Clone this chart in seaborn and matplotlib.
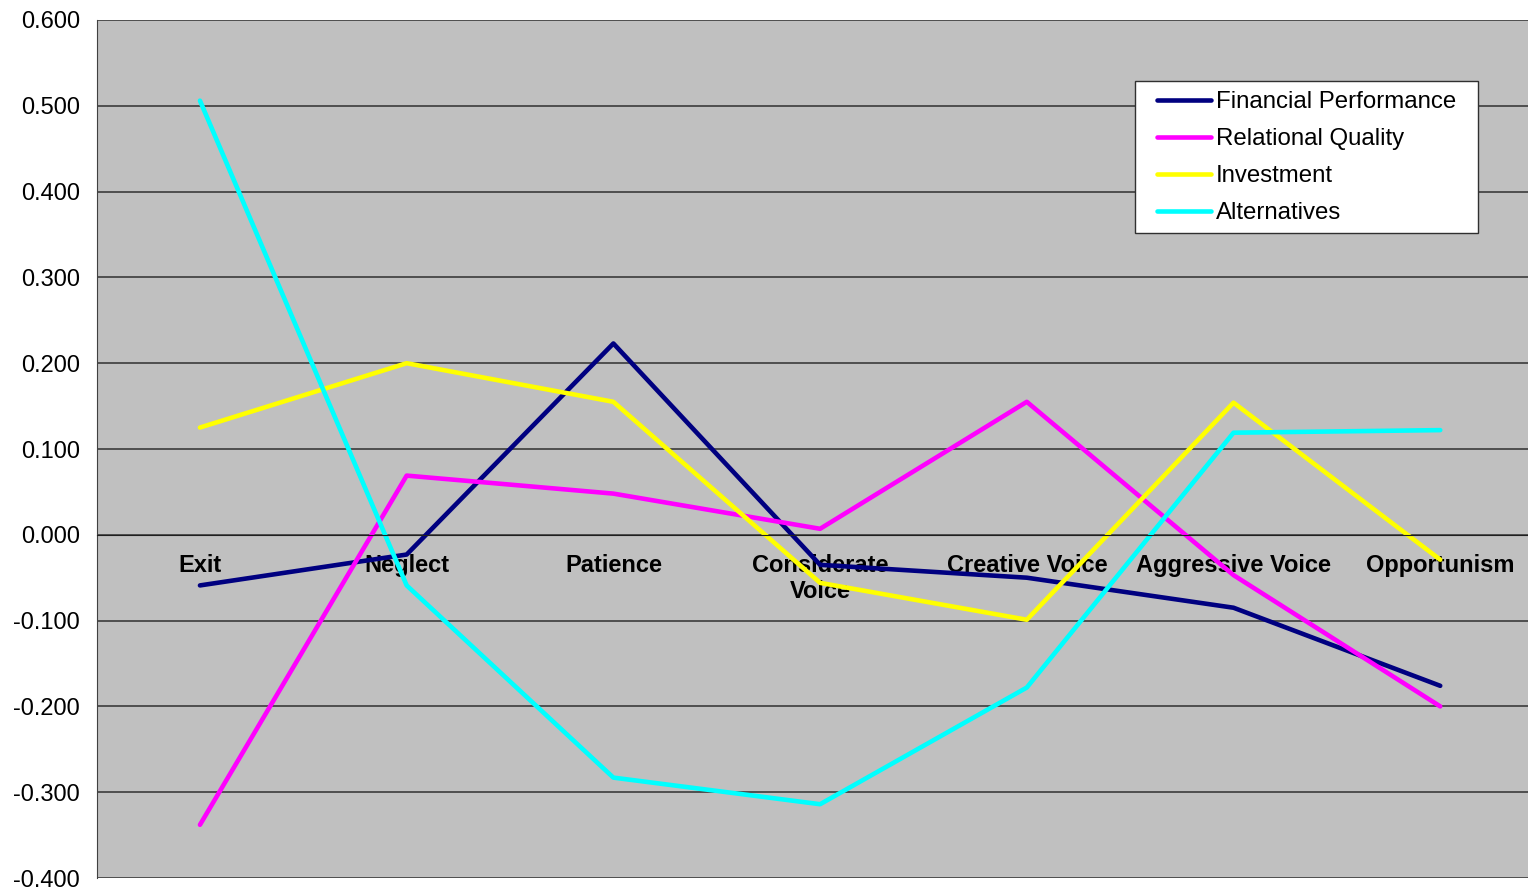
import matplotlib
matplotlib.use("Agg")
import matplotlib.pyplot as plt
from matplotlib.patches import Rectangle
import seaborn as sns
import pandas as pd

# Data
categories = ['Exit', 'Neglect', 'Patience', 'Considerate\nVoice',
              'Creative Voice', 'Aggressive Voice', 'Opportunism']
financial = [-0.059, -0.023, 0.223, -0.035, -0.050, -0.085, -0.176]
relational = [-0.338, 0.069, 0.048, 0.007, 0.155, -0.047, -0.200]
investment = [0.125, 0.200, 0.155, -0.056, -0.099, 0.154, -0.029]
alternatives = [0.506, -0.059, -0.283, -0.314, -0.178, 0.119, 0.122]
y_ticks = [-0.4, -0.3, -0.2, -0.1, 0.0, 0.1, 0.2, 0.3, 0.4, 0.5, 0.6]

series = {
    'Financial Performance': financial,
    'Relational Quality': relational,
    'Investment': investment,
    'Alternatives': alternatives,
}
colors = ['#000080', '#FF00FF', '#FFFF00', '#00FFFF']

rows = []
for name, vals in series.items():
    for i, v in enumerate(vals):
        rows.append({'pos': i, 'value': v, 'series': name})
df = pd.DataFrame(rows)

sns.set_style('white')
plt.rcParams['font.family'] = ['Liberation Sans', 'DejaVu Sans']
plt.rcParams['text.color'] = 'black'
plt.rcParams['xtick.color'] = 'black'
plt.rcParams['ytick.color'] = 'black'

fig = plt.figure(figsize=(15.28, 8.88), dpi=100)
# plot area runs past the right edge like in the original screenshot
ax = fig.add_axes([96.6 / 1528, 10 / 888, 1447 / 1528, 858 / 888])
ax.set_facecolor('#C0C0C0')

sns.lineplot(data=df, x='pos', y='value', hue='series', palette=colors,
             hue_order=list(series.keys()), linewidth=3.3, sort=False,
             ax=ax, legend=True)

ax.set_xlim(-0.5, 6.5)
ax.set_ylim(-0.4, 0.6)
ax.set_yticks(y_ticks)
ax.set_yticklabels([f'{t:.3f}' for t in y_ticks], fontsize=17)
ax.yaxis.grid(True, color='#303030', linewidth=1.1)
ax.set_axisbelow(True)
ax.tick_params(axis='y', length=5, width=1, color='#303030', pad=7)

# category axis sits on zero, ticks between categories
ax.spines['bottom'].set_position(('data', 0))
ax.spines['bottom'].set_color('#202020')
ax.spines['left'].set_color('#404040')
ax.spines['top'].set_visible(False)
ax.spines['right'].set_visible(False)
ax.set_xticks([i + 0.5 for i in range(len(categories) - 1)])
ax.set_xticklabels([])
ax.set_xticks(range(len(categories)), minor=True)
ax.set_xticklabels(categories, minor=True, fontsize=17, fontweight='bold',
                   linespacing=1.15)
ax.tick_params(axis='x', which='major', length=6, width=1, color='#202020',
               direction='out')
ax.tick_params(axis='x', which='minor', length=0, pad=14)
for lab in ax.get_xticklabels(minor=True):
    lab.set_verticalalignment('top')

ax.set_xlabel('')
ax.set_ylabel('')

handles, labels = ax.get_legend_handles_labels()
ax.get_legend().remove()

# legend box drawn by hand so the inner margins match the original
fig.patches.append(Rectangle((1135 / 1528, 1 - 233 / 888), 343 / 1528,
                             152 / 888, transform=fig.transFigure,
                             facecolor='white', edgecolor='#303030',
                             linewidth=1, zorder=3))
fig.legend(handles, labels, loc='upper left',
           bbox_to_anchor=(1157 / 1528, 1 - 91 / 888),
           bbox_transform=fig.transFigure, borderaxespad=0, borderpad=0,
           frameon=False, fontsize=17.3, handlelength=2.25,
           handletextpad=0.2, labelspacing=0.63)

fig.savefig('out.png', dpi=100, facecolor='white')
